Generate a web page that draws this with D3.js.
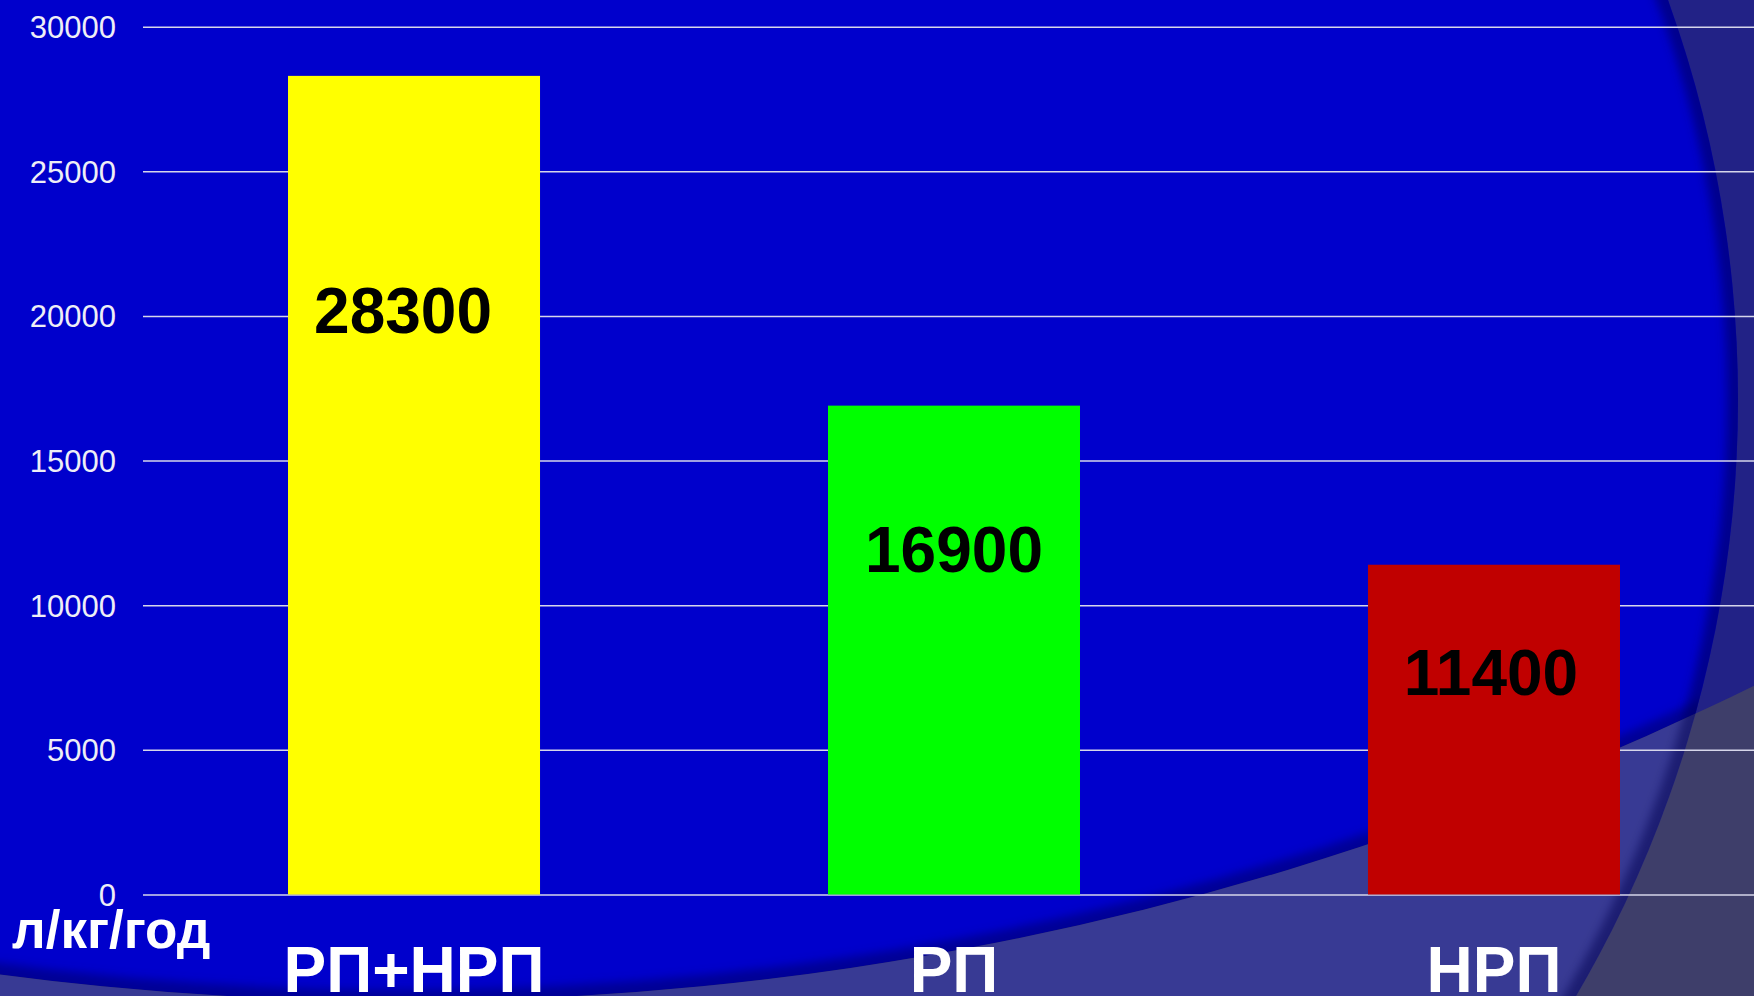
<!DOCTYPE html>
<html>
<head>
<meta charset="utf-8">
<script src="https://d3js.org/d3.v7.min.js"></script>
<style>
body { margin: 0; overflow: hidden; background: #222286; }
svg { display: block; font-family: "Liberation Sans", Arial, sans-serif; }
</style>
</head>
<body>
<svg id="chart"></svg>
<script>
// data
var categories = ["РП+НРП", "РП", "НРП"];
var values = [28300, 16900, 11400];
var barColors = ["#ffff00", "#00ff00", "#c00000"];
var yTicks = [0, 5000, 10000, 15000, 20000, 25000, 30000];
var unitLabel = "л/кг/год";
// where the value label sits inside each bar (share of bar height, x nudge)
var labelFrac = [0.686, 0.66, 0.605];
var labelShift = [-11, 0, -3];

var W = 1754, H = 996;
var svg = d3.select("#chart").attr("width", W).attr("height", H);
var defs = svg.append("defs");

// background shapes (slide template)
var c1 = {x: 560, y: 400, r: 1178};
var c2 = {x: 402, y: -2055, r: 3056};
function circlePath(c) {
  return "M" + (c.x - c.r) + "," + c.y +
    "a" + c.r + "," + c.r + " 0 1,0 " + (2 * c.r) + ",0" +
    "a" + c.r + "," + c.r + " 0 1,0 " + (-2 * c.r) + ",0Z";
}
defs.append("clipPath").attr("id", "inC1").append("path").attr("d", circlePath(c1));
defs.append("clipPath").attr("id", "inC2").append("path").attr("d", circlePath(c2));
var blur = defs.append("filter").attr("id", "soft")
  .attr("x", "-10%").attr("y", "-10%").attr("width", "120%").attr("height", "120%");
blur.append("feGaussianBlur").attr("stdDeviation", 5);

var bg = svg.append("g");
bg.append("rect").attr("width", W).attr("height", H).attr("fill", "#222286");
bg.append("path").attr("d", circlePath(c1)).attr("fill", "#0000cc");

var bandPath = "M0,0H" + W + "V" + H + "H0Z" + circlePath(c2);
bg.append("path").attr("d", bandPath).attr("fill-rule", "evenodd").attr("fill", "#3e3e6a");
bg.append("path").attr("d", bandPath).attr("fill-rule", "evenodd").attr("fill", "#383a94")
  .attr("clip-path", "url(#inC1)");

// soft shadows on the edges
bg.append("g").attr("clip-path", "url(#inC1)")
  .append("g").attr("clip-path", "url(#inC2)")
  .append("path").attr("d", circlePath(c2))
  .attr("fill", "none").attr("stroke", "#000060").attr("stroke-opacity", 0.5)
  .attr("stroke-width", 22).attr("filter", "url(#soft)");
bg.append("g").attr("clip-path", "url(#inC1)")
  .append("path").attr("d", circlePath(c1))
  .attr("fill", "none").attr("stroke", "#000050").attr("stroke-opacity", 0.5)
  .attr("stroke-width", 22).attr("filter", "url(#soft)");

// scales
var plotLeft = 143, plotTop = 26.7, plotBottom = 894.5;
var x = d3.scaleBand().domain(categories).range([144, 1764])
  .paddingInner(0.5333).paddingOuter(0.2667);
var y = d3.scaleLinear().domain([0, 30000]).range([plotBottom, plotTop]);

// y axis with gridlines
var yAxis = d3.axisLeft(y).tickValues(yTicks).tickFormat(d3.format("d"))
  .tickSizeInner(-(W - plotLeft)).tickSizeOuter(0).tickPadding(27);
var gy = svg.append("g").attr("transform", "translate(" + plotLeft + ",0)").call(yAxis);
gy.select(".domain").remove();
gy.selectAll(".tick line").attr("stroke", "#d6d6ea").attr("stroke-width", 1.5);
gy.selectAll(".tick text").attr("fill", "#eeeef6").attr("font-size", 31)
  .attr("font-family", "Liberation Sans, Arial, sans-serif").attr("dy", "0.35em");

// bars
svg.append("g").selectAll("rect").data(values).join("rect")
  .attr("x", function(d, i) { return x(categories[i]); })
  .attr("y", function(d) { return y(d); })
  .attr("width", x.bandwidth())
  .attr("height", function(d) { return y(0) - y(d); })
  .attr("fill", function(d, i) { return barColors[i]; });

// value labels
svg.append("g").selectAll("text").data(values).join("text")
  .attr("x", function(d, i) { return x(categories[i]) + x.bandwidth() / 2 + labelShift[i]; })
  .attr("y", function(d, i) { return y(d * labelFrac[i]); })
  .attr("text-anchor", "middle")
  .attr("font-size", 64).attr("font-weight", "bold").attr("fill", "#000")
  .text(function(d) { return d; });

// category axis
var xAxis = d3.axisBottom(x).tickSize(0).tickPadding(52);
var gx = svg.append("g").attr("transform", "translate(0," + plotBottom + ")").call(xAxis);
gx.select(".domain").remove();
gx.selectAll(".tick text").attr("fill", "#fff").attr("font-size", 64).attr("font-weight", "bold")
  .attr("font-family", "Liberation Sans, Arial, sans-serif");

// unit label
svg.append("text").attr("x", 12).attr("y", 948)
  .attr("font-size", 53).attr("font-weight", "bold").attr("fill", "#fff")
  .text(unitLabel);
</script>
</body>
</html>
